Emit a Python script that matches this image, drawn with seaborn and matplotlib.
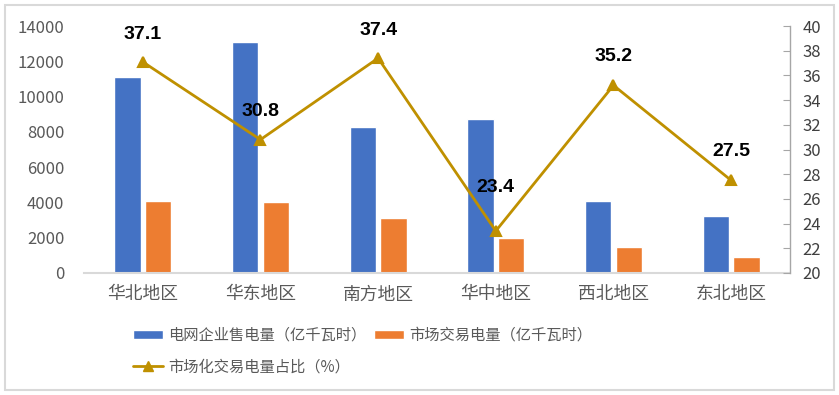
import pandas as pd
import matplotlib.pyplot as plt
import seaborn as sns
from matplotlib.lines import Line2D
from matplotlib.patches import Rectangle

# chart data
regions = ["华北地区", "华东地区", "南方地区", "华中地区", "西北地区", "东北地区"]
grid_sales = [11100, 13100, 8250, 8750, 4100, 3250]
market_trade = [4100, 4050, 3100, 2000, 1450, 900]
market_share = [37.1, 30.8, 37.4, 23.4, 35.2, 27.5]

series_names = ["电网企业售电量（亿千瓦时）", "市场交易电量（亿千瓦时）"]
line_name = "市场化交易电量占比（%）"

# vertical offset (points) of each data label above its marker
label_dy = [20, 20, 20, 31, 21, 21]

df = pd.DataFrame({
    "region": regions * 2,
    "value": grid_sales + market_trade,
    "series": [series_names[0]] * len(regions) + [series_names[1]] * len(regions),
})

blue, orange, gold = "#4472C4", "#ED7D31", "#BF9000"
grey_txt = "#595959"

sns.set_style("white")
plt.rcParams["font.family"] = ["Noto Sans CJK SC", "DejaVu Sans"]

fig = plt.figure(figsize=(8.39, 3.95), dpi=100)
ax = fig.add_axes([0.100, 0.309, 0.8416, 0.625])

sns.barplot(data=df, x="region", y="value", hue="series",
            palette=[blue, orange], width=0.52, gap=0.14,
            saturation=1, ax=ax)
handles, labels = ax.get_legend_handles_labels()
ax.get_legend().remove()

ax.set_ylim(0, 14000)
ax.set_yticks(range(0, 14001, 2000))
ax.set_xlim(-0.5, len(regions) - 0.5)
ax.set_xlabel("")
ax.set_ylabel("")
for s in ["top", "left", "right"]:
    ax.spines[s].set_visible(False)
ax.spines["bottom"].set_color("#D9D9D9")
ax.spines["bottom"].set_linewidth(1.5)
ax.tick_params(axis="y", length=0, pad=14, labelsize=12, labelcolor=grey_txt)
ax.tick_params(axis="x", length=0, pad=9, labelsize=12.8, labelcolor=grey_txt)

# secondary axis: share line
ax2 = ax.twinx()
sns.pointplot(x=regions, y=market_share, ax=ax2, color=gold, markers="^",
              linestyles="-", linewidth=2, markersize=6.5, errorbar=None)
ax2.set_ylim(20, 40)
ax2.set_yticks(range(20, 41, 2))
ax2.set_xlim(-0.5, len(regions) - 0.5)
ax2.set_ylabel("")
for s in ["top", "left", "bottom"]:
    ax2.spines[s].set_visible(False)
ax2.spines["right"].set_color("#A6A6A6")
ax2.spines["right"].set_linewidth(1)
ax2.tick_params(axis="y", direction="in", length=5, color="#A6A6A6",
                pad=9, labelsize=12, labelcolor="#404040")

for i, v in enumerate(market_share):
    ax2.annotate(f"{v}", (i, v), xytext=(0, label_dy[i]), textcoords="offset points",
                 ha="center", va="center", fontsize=14, fontweight="bold",
                 family="Liberation Sans", color="black")

line_handle = Line2D([], [], color=gold, linewidth=2, marker="^", markersize=7.5)
leg = fig.legend([handles[0], line_handle, handles[1]],
                 [series_names[0], line_name, series_names[1]],
                 ncol=2, loc="upper left", bbox_to_anchor=(0.149, 0.192),
                 frameon=False, borderpad=0, fontsize=11, handlelength=2.0,
                 handleheight=0.5, handletextpad=0.3, columnspacing=0.5,
                 labelspacing=0.95)
for t in leg.get_texts():
    t.set_color(grey_txt)

# outer border of the chart
fig.patches.append(Rectangle((0.006, 0.012), 0.988, 0.976, transform=fig.transFigure,
                             fill=False, edgecolor="#D9D9D9", linewidth=1.5))

plt.savefig("out.png", dpi=100)
